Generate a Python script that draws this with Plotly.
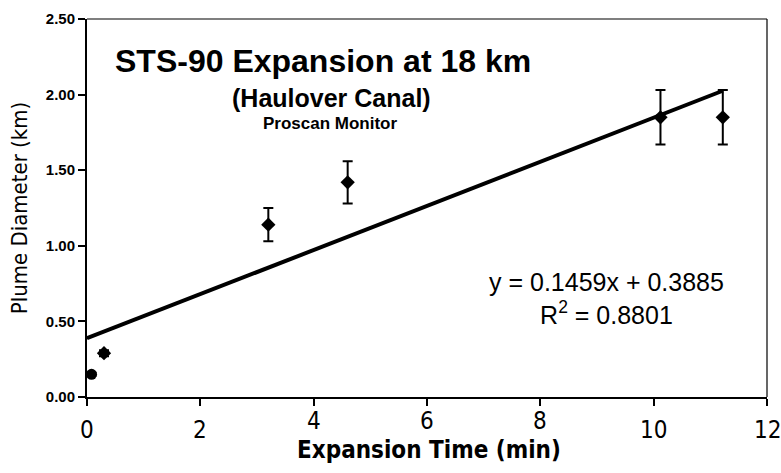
import plotly.graph_objects as go

# Plume diameter measurements (Proscan monitor, Haulover Canal site)
expansion_time = [0.08, 0.30, 3.20, 4.60, 10.12, 11.22]   # minutes
plume_diameter = [0.15, 0.29, 1.14, 1.42, 1.85, 1.85]     # km
diameter_error = [0.01, 0.02, 0.11, 0.14, 0.18, 0.18]     # km
marker_symbols = ["circle", "diamond", "diamond", "diamond", "diamond", "diamond"]

# Linear fit reported for the series
fit_slope = 0.1459
fit_intercept = 0.3885
fit_r2 = 0.8801

x_ticks = [0, 2, 4, 6, 8, 10, 12]
y_ticks = [0.0, 0.5, 1.0, 1.5, 2.0, 2.5]
y_tick_text = ["0.00", "0.50", "1.00", "1.50", "2.00", "2.50"]

fit_x = [0, max(expansion_time)]
fit_y = [fit_slope * v + fit_intercept for v in fit_x]

# plot-area geometry in pixels
W, H = 781, 473
L, R, T, B = 87, 14, 10, 76
PW, PH = W - L - R, H - T - B


def px_to_paper_y(py):
    return (H - B - py) / PH


def px_to_paper_x(px):
    return (px - L) / PW


fig = go.Figure()

fig.add_trace(go.Scatter(
    x=fit_x, y=fit_y, mode="lines",
    line=dict(color="black", width=4),
    hoverinfo="skip", showlegend=False,
))

fig.add_trace(go.Scatter(
    x=expansion_time, y=plume_diameter, mode="markers",
    marker=dict(symbol=marker_symbols, size=11, color="black"),
    error_y=dict(type="data", array=diameter_error, visible=True,
                 color="black", thickness=2, width=5),
    showlegend=False,
))

narrow = "DejaVu Sans Condensed, Liberation Sans Narrow, sans-serif"
helv = "Liberation Sans, Arial, Helvetica, sans-serif"

fig.update_layout(
    width=W, height=H,
    margin=dict(l=L, r=R, t=T, b=B),
    paper_bgcolor="white", plot_bgcolor="white",
    font=dict(family=helv, color="black"),
    xaxis=dict(
        range=[0, 12], tickvals=x_ticks, ticks="outside", ticklen=7,
        tickwidth=1.5, tickcolor="black", showticklabels=False,
        showline=True, linecolor="black", linewidth=2,
        showgrid=False, zeroline=False,
    ),
    yaxis=dict(
        range=[0, 2.5], tickvals=y_ticks, ticktext=y_tick_text,
        ticks="outside", ticklen=7, tickwidth=1.5, tickcolor="black",
        showline=True, linecolor="black", linewidth=2,
        showgrid=False, zeroline=False,
        tickfont=dict(family=helv, size=15, weight="bold"),
        title=dict(text="Plume Diameter (km)", standoff=12,
                   font=dict(family=narrow, size=22)),
    ),
)

# thin frame on the top and right of the plot area
fig.add_shape(type="line", xref="paper", yref="paper", x0=0, x1=1, y0=1, y1=1,
              line=dict(color="black", width=1.2))
fig.add_shape(type="line", xref="paper", yref="paper", x0=1, x1=1, y0=0, y1=1,
              line=dict(color="black", width=1.2))

# x tick labels; the ones sitting above the axis title are nudged up
for t in x_ticks:
    raised = 3 <= t <= 9
    fig.add_annotation(
        text=str(t), xref="x", yref="paper", x=t,
        y=px_to_paper_y(422 if raised else 431),
        xanchor="center", yanchor="middle", showarrow=False,
        font=dict(family=narrow, size=24),
    )

fig.add_annotation(
    text="<b>Expansion Time (min)</b>", xref="paper", yref="paper",
    x=px_to_paper_x(429), y=px_to_paper_y(451),
    xanchor="center", yanchor="middle", showarrow=False,
    font=dict(family=narrow, size=24),
)

fig.add_annotation(
    text="<b>STS-90 Expansion at 18 km</b>", xref="paper", yref="paper",
    x=px_to_paper_x(113), y=px_to_paper_y(53), xanchor="left", yanchor="middle",
    showarrow=False, font=dict(size=32),
)
fig.add_annotation(
    text="<b>(Haulover Canal)</b>", xref="paper", yref="paper",
    x=px_to_paper_x(331), y=px_to_paper_y(91), xanchor="center", yanchor="middle",
    showarrow=False, font=dict(size=25),
)
fig.add_annotation(
    text="<b>Proscan Monitor</b>", xref="paper", yref="paper",
    x=px_to_paper_x(330), y=px_to_paper_y(117), xanchor="center", yanchor="middle",
    showarrow=False, font=dict(size=17),
)
fig.add_annotation(
    text=f"y = {fit_slope}x + {fit_intercept}<br>R<sup>2</sup> = {fit_r2}",
    xref="paper", yref="paper",
    x=px_to_paper_x(606), y=px_to_paper_y(296), xanchor="center", yanchor="middle",
    showarrow=False, align="center", font=dict(size=25),
)

fig.write_html("out.html")
